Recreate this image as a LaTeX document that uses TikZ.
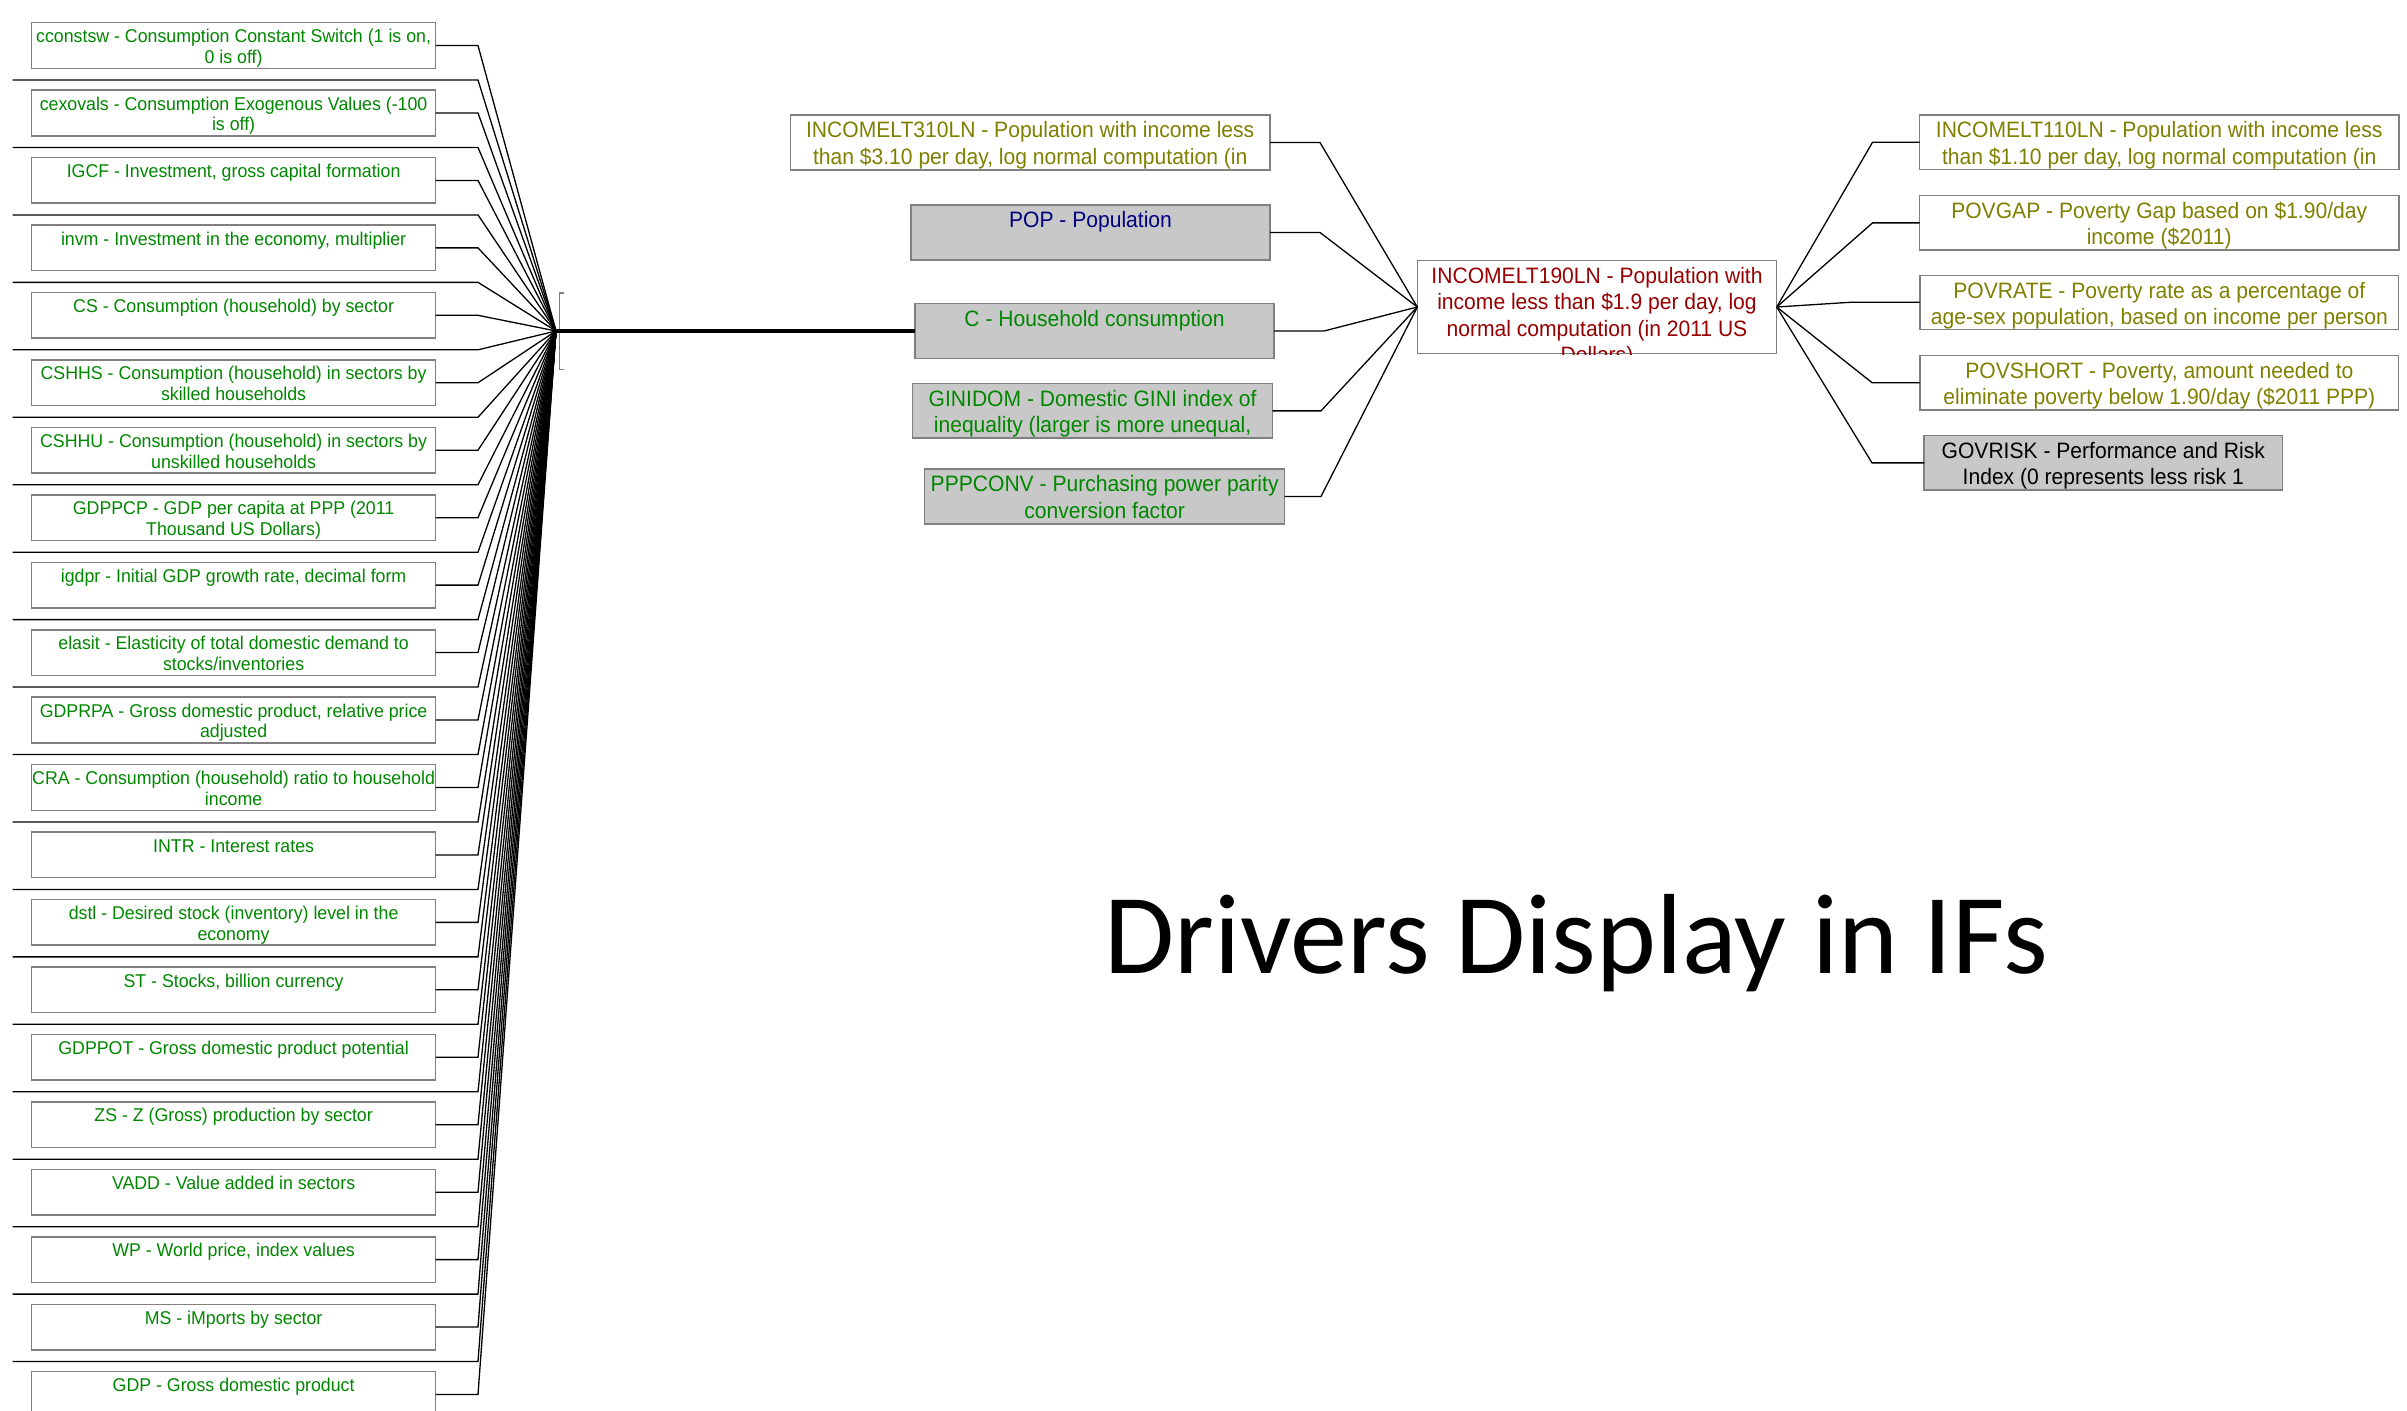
\documentclass[tikz,border=0pt]{standalone}
\usepackage{fontspec}
\setmainfont{Liberation Sans}[FakeStretch=0.96]
\newfontfamily\bigfont{Liberation Sans}[FakeStretch=0.945]
\newfontfamily\titlefont{Carlito}
\definecolor{ifgreen}{RGB}{0,135,0}
\definecolor{ifolive}{RGB}{128,128,0}
\definecolor{ifnavy}{RGB}{0,0,128}
\definecolor{ifmaroon}{RGB}{150,0,0}
\definecolor{ifgray}{RGB}{200,200,200}
\definecolor{ifborder}{RGB}{128,128,128}
\newcommand{\lbx}[1]{\parbox[t][45.6pt][t]{404.2pt}{\centering\fontsize{18.5}{20.6}\selectfont\rule{0pt}{20pt}#1}}
\newcommand{\mbx}[3]{\parbox[t][#2][t]{#1}{\centering\bigfont\fontsize{22.3}{26.3}\selectfont\rule{0pt}{22.7pt}#3}}
\tikzset{
  vbox/.style={draw=ifborder, line width=1.5pt, inner sep=0pt, outer sep=0pt, anchor=north west, fill=white},
  gbox/.style={vbox, fill=ifgray},
  conn/.style={line width=1.3pt, black},
  mainconn/.style={line width=4pt, black}
}
\begin{document}
\begin{tikzpicture}[x=1pt,y=-1pt]
\fill[white] (0,0) rectangle (2407,1411);
\useasboundingbox (0,0) rectangle (2407,1411);

% junction of the left fan
\coordinate (hub) at (556,331);

% connectors from the left edge (nodes outside the view)
\foreach \i in {0,...,19}{
  \pgfmathsetmacro{\yg}{80+67.45*\i}
  \coordinate (g\i) at (12.5,\yg);
  \draw[conn] (g\i) -- ++(465.5,0) -- (hub);
}

% left column
\foreach \i/\nm/\tx in {
 0/cconstsw/{cconstsw - Consumption Constant Switch (1 is on,\\0 is off)},
 1/cexovals/{cexovals - Consumption Exogenous Values (-100\\is off)},
 2/igcf/{IGCF - Investment, gross capital formation},
 3/invm/{invm - Investment in the economy, multiplier},
 4/cs/{CS - Consumption (household) by sector},
 5/cshhs/{CSHHS - Consumption (household) in sectors by\\skilled households},
 6/cshhu/{CSHHU - Consumption (household) in sectors by\\unskilled households},
 7/gdppcp/{GDPPCP - GDP per capita at PPP (2011\\Thousand US Dollars)},
 8/igdpr/{igdpr - Initial GDP growth rate, decimal form},
 9/elasit/{elasit - Elasticity of total domestic demand to\\stocks/inventories},
 10/gdprpa/{GDPRPA - Gross domestic product, relative price\\adjusted},
 11/cra/{CRA - Consumption (household) ratio to household\\income},
 12/intr/{INTR - Interest rates},
 13/dstl/{dstl - Desired stock (inventory) level in the\\economy},
 14/st/{ST - Stocks, billion currency},
 15/gdppot/{GDPPOT - Gross domestic product potential},
 16/zs/{ZS - Z (Gross) production by sector},
 17/vadd/{VADD - Value added in sectors},
 18/wp/{WP - World price, index values},
 19/ms/{MS - iMports by sector},
 20/gdp/{GDP - Gross domestic product}}{
  \pgfmathsetmacro{\ytop}{22.7+67.45*\i}
  \node[vbox, text=ifgreen] (\nm) at (31.5,\ytop) {\lbx{\tx}};
  \draw[conn] (\nm.east) -- ++(42.3,0) -- (hub);
}

% small collapsed marker at the junction
\draw[ifborder, line width=1.2pt] (563.5,293) -- (559.8,293) -- (559.8,369.5) -- (563.5,369.5);

% middle column
\node[vbox, text=ifolive] (i310) at (790.4,115) {\mbx{479.6pt}{55pt}{INCOMELT310LN - Population with income less\\than \$3.10 per day, log normal computation (in}};
\node[gbox, text=ifnavy] (pop) at (911,205) {\mbx{359pt}{55pt}{POP - Population}};
\node[gbox, text=ifgreen] (c) at (915,303.7) {\mbx{359pt}{54.6pt}{C - Household consumption}};
\node[gbox, text=ifgreen] (gini) at (912.7,383.7) {\mbx{359.8pt}{54.3pt}{GINIDOM - Domestic GINI index of\\inequality (larger is more unequal,}};
\node[gbox, text=ifgreen] (ppp) at (924.7,469) {\mbx{359.9pt}{55pt}{PPPCONV - Purchasing power parity\\conversion factor}};

\draw[mainconn] (hub) -- (c.west);

% central node (text clipped by its box)
\begin{scope}
  \clip (1416.4,259.9) rectangle (1777.6,354.1);
  \node[vbox, text=ifmaroon] (i190) at (1417.3,260.7) {\mbx{359.4pt}{92.6pt}{INCOMELT190LN - Population with\\income less than \$1.9 per day, log\\normal computation (in 2011 US\\Dollars)}};
\end{scope}

\draw[conn] (i310.east) -- ++(50,0) -- (i190.west);
\draw[conn] (pop.east) -- ++(50,0) -- (i190.west);
\draw[conn] (c.east) -- ++(50,0) -- (i190.west);
\draw[conn] (gini.east) -- ++(48.5,0) -- (i190.west);
\draw[conn] (ppp.east) -- ++(36.4,0) -- (i190.west);

% right column
\node[vbox, text=ifolive] (i110) at (1919.6,115) {\mbx{479.2pt}{54.3pt}{INCOMELT110LN - Population with income less\\than \$1.10 per day, log normal computation (in}};
\node[vbox, text=ifolive] (povgap) at (1919.6,195.7) {\mbx{479.2pt}{54.3pt}{POVGAP - Poverty Gap based on \$1.90/day\\income (\$2011)}};
\node[vbox, text=ifolive] (povrate) at (1920,275.3) {\mbx{478.7pt}{54pt}{POVRATE - Poverty rate as a percentage of\\age-sex population, based on income per person}};
\node[vbox, text=ifolive] (povshort) at (1920,355.3) {\mbx{478.7pt}{54.7pt}{POVSHORT - Poverty, amount needed to\\eliminate poverty below 1.90/day (\$2011 PPP)}};
\node[gbox, text=black] (govrisk) at (1924,435.7) {\mbx{358.5pt}{54.3pt}{GOVRISK - Performance and Risk\\Index (0 represents less risk 1}};

\draw[conn] (i110.west) -- ++(-47,0) -- (i190.east);
\draw[conn] (povgap.west) -- ++(-47,0) -- (i190.east);
\draw[conn] (povrate.west) -- ++(-70,0) -- (i190.east);
\draw[conn] (povshort.west) -- ++(-48,0) -- (i190.east);
\draw[conn] (govrisk.west) -- ++(-52,0) -- (i190.east);

% title
\node[anchor=base west, inner sep=0pt, font=\titlefont\fontsize{114}{114}\selectfont] (title) at (1104,973.3) {Drivers Display in IFs};
\end{tikzpicture}
\end{document}
